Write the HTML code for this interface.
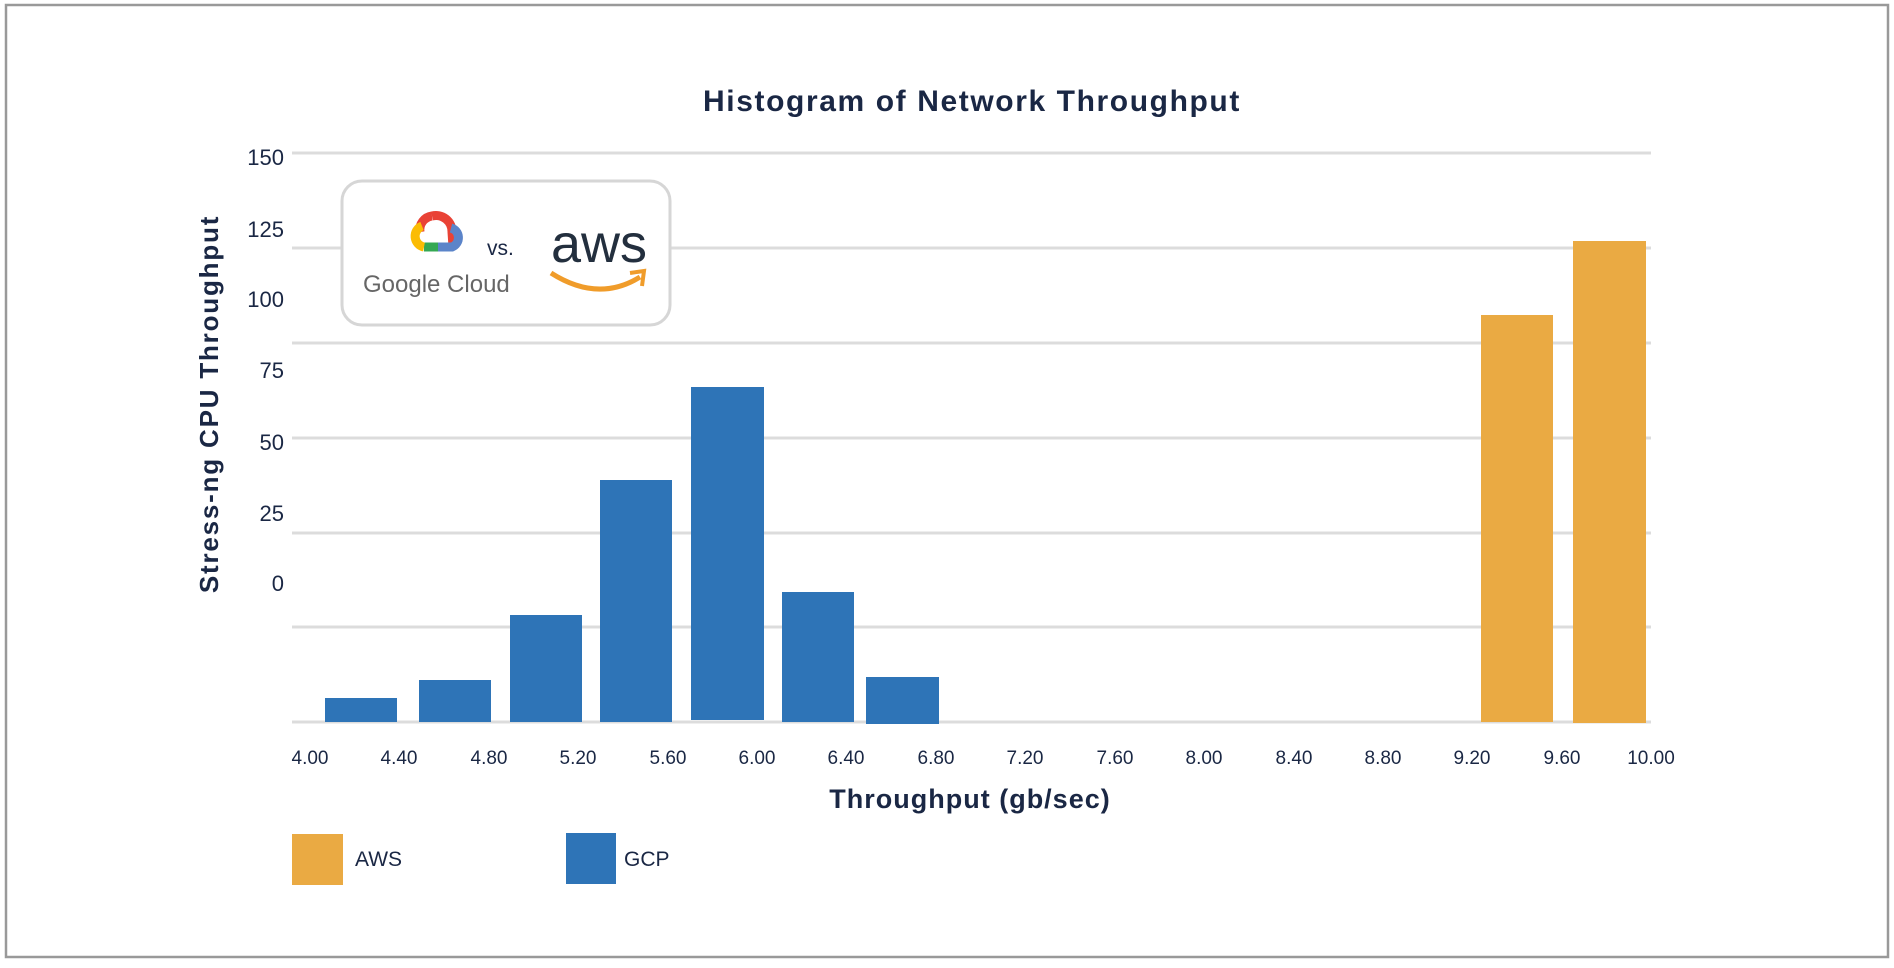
<!DOCTYPE html>
<html><head><meta charset="utf-8"><style>
html,body{margin:0;padding:0;background:#fff;}
svg{display:block;font-family:"Liberation Sans",sans-serif;}
</style></head><body>
<svg width="1894" height="968" viewBox="0 0 1894 968" xmlns="http://www.w3.org/2000/svg">
<rect x="0" y="0" width="1894" height="968" fill="#fff"/>
<rect x="6" y="5" width="1882" height="952" fill="none" stroke="#999" stroke-width="2.5"/>
<text x="972" y="111" text-anchor="middle" font-size="30" font-weight="bold" letter-spacing="1.6" fill="#1a2744">Histogram of Network Throughput</text>
<g stroke="#dcdcdc" stroke-width="3">
<line x1="292" y1="153" x2="1651" y2="153"/>
<line x1="292" y1="248" x2="1651" y2="248"/>
<line x1="292" y1="343" x2="1651" y2="343"/>
<line x1="292" y1="438" x2="1651" y2="438"/>
<line x1="292" y1="533" x2="1651" y2="533"/>
<line x1="292" y1="627" x2="1651" y2="627"/>
<line x1="292" y1="722" x2="1651" y2="722"/>
</g>
<g font-size="22" fill="#1a2744" text-anchor="end">
<text x="284" y="165">150</text><text x="284" y="237">125</text><text x="284" y="307">100</text>
<text x="284" y="378">75</text><text x="284" y="450">50</text><text x="284" y="521">25</text><text x="284" y="591">0</text>
</g>
<text transform="translate(218,404) rotate(-90)" text-anchor="middle" font-size="26" font-weight="bold" letter-spacing="1.8" fill="#1a2744">Stress-ng CPU Throughput</text>
<g fill="#2e74b7">
<rect x="325" y="698" width="72" height="24"/>
<rect x="419" y="680" width="72" height="42"/>
<rect x="510" y="615" width="72" height="107"/>
<rect x="600" y="480" width="72" height="242"/>
<rect x="691" y="387" width="73" height="333"/>
<rect x="782" y="592" width="72" height="130"/>
<rect x="866" y="677" width="73" height="47"/>
</g>
<g fill="#eaaa43">
<rect x="1481" y="315" width="72" height="407"/>
<rect x="1573" y="241" width="73" height="482"/>
</g>
<g font-size="19" fill="#1a2744" text-anchor="middle">
<text x="310" y="764">4.00</text><text x="399" y="764">4.40</text><text x="489" y="764">4.80</text>
<text x="578" y="764">5.20</text><text x="668" y="764">5.60</text><text x="757" y="764">6.00</text>
<text x="846" y="764">6.40</text><text x="936" y="764">6.80</text><text x="1025" y="764">7.20</text>
<text x="1115" y="764">7.60</text><text x="1204" y="764">8.00</text><text x="1294" y="764">8.40</text>
<text x="1383" y="764">8.80</text><text x="1472" y="764">9.20</text><text x="1562" y="764">9.60</text>
<text x="1651" y="764">10.00</text>
</g>
<text x="970" y="808" text-anchor="middle" font-size="27" font-weight="bold" letter-spacing="1" fill="#1a2744">Throughput (gb/sec)</text>
<rect x="292" y="834" width="51" height="51" fill="#eaaa43"/>
<text x="355" y="866" font-size="21" fill="#1a2744">AWS</text>
<rect x="566" y="833" width="50" height="51" fill="#2e74b7"/>
<text x="624" y="866" font-size="21" fill="#1a2744">GCP</text>
<rect x="342" y="181" width="328" height="144" rx="20" fill="#fff" stroke="#d6d6d6" stroke-width="3"/>
<g fill="none" stroke-width="9">
<path d="M420 232 A14 14 0 0 1 432 216" stroke="#e94235"/>
<path d="M432 216 A16 16 0 0 1 452 232 L453 247" stroke="#e94235"/>
<path d="M451 228 A10 10 0 0 1 452 247 L438 247" stroke="#5b84c9"/>
<path d="M438 247 L424 247" stroke="#34a853"/>
<path d="M424 247 A11 11 0 0 1 422 226" stroke="#fbbc04"/>
</g>
<text x="363" y="292" font-size="24" fill="#666">Google Cloud</text>
<text x="487" y="255" font-size="21" fill="#1a2744">vs.</text>
<text x="551" y="262" font-size="54" fill="#232f3e">aws</text>
<path d="M551 273 Q598 303 640 277" fill="none" stroke="#f09c2a" stroke-width="5"/>
<path d="M630 273 L644 271 L642 286" fill="none" stroke="#f09c2a" stroke-width="4"/>
</svg>
</body></html>
